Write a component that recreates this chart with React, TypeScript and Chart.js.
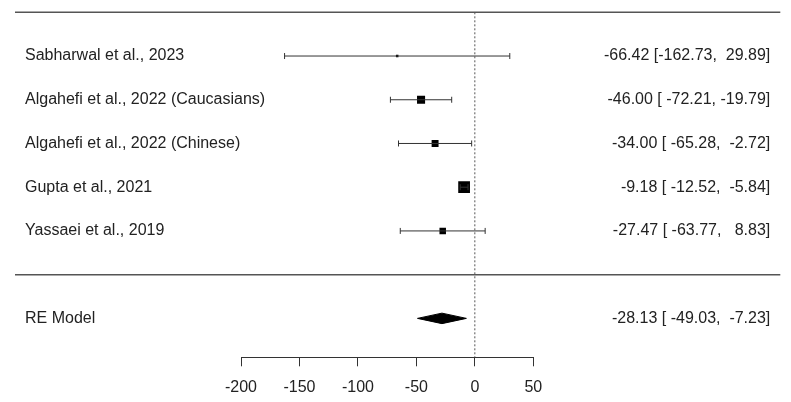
import React, { useEffect, useRef } from "react";
import { Chart, registerables } from "chart.js";

Chart.register(...registerables);

// ---- data ----
const studies = [
  "Sabharwal et al., 2023",
  "Algahefi et al., 2022 (Caucasians)",
  "Algahefi et al., 2022 (Chinese)",
  "Gupta et al., 2021",
  "Yassaei et al., 2019",
];
const estimates = [-66.42, -46.0, -34.0, -9.18, -27.47];
const lowers = [-162.73, -72.21, -65.28, -12.52, -63.77];
const uppers = [29.89, -19.79, -2.72, -5.84, 8.83];
const markerRadius = [1.8, 5.7, 4.9, 8.3, 4.6];
const rows = [5, 4, 3, 2, 1];

const reLabel = "RE Model";
const reEstimate = -28.13;
const reLower = -49.03;
const reUpper = -7.23;
const reRow = -1;

const xTicks = [-200, -150, -100, -50, 0, 50];

// ---- layout constants ----
const FONT = '"Liberation Sans", Arial, Helvetica, sans-serif';
const Y_MAX = 6;
const Y_MIN = -1.89;
const DIAMOND_H = 0.12;

const fmt = (v: number) => v.toFixed(2);
const allEst = [...estimates, reEstimate].map(fmt);
const allLo = [...lowers, reLower].map(fmt);
const allHi = [...uppers, reUpper].map(fmt);
const wE = Math.max(...allEst.map((s) => s.length));
const wL = Math.max(...allLo.map((s) => s.length));
const wH = Math.max(...allHi.map((s) => s.length));
const ciText = (i: number) =>
  `${allEst[i].padStart(wE, " ")} [${allLo[i].padStart(wL, " ")}, ${allHi[i].padStart(wH, " ")}]`;

const textPlugin = {
  id: "forestText",
  afterDatasetsDraw(chart: any) {
    const { ctx, chartArea, scales } = chart;
    const y = scales.y;
    ctx.save();
    ctx.strokeStyle = "#555";
    ctx.lineWidth = 1.5;
    [Y_MAX, 0].forEach((r) => {
      const py = y.getPixelForValue(r);
      ctx.beginPath();
      ctx.moveTo(chartArea.left - 226, py);
      ctx.lineTo(chartArea.right + 247, py);
      ctx.stroke();
    });
    ctx.font = `16px ${FONT}`;
    ctx.fillStyle = "#222";
    ctx.textBaseline = "middle";
    const lx = chartArea.left - 216;
    const rx = chartArea.right + 237;
    rows.forEach((r, i) => {
      const py = y.getPixelForValue(r);
      ctx.textAlign = "left";
      ctx.fillText(studies[i], lx, py);
      ctx.textAlign = "right";
      ctx.fillText(ciText(i), rx, py);
    });
    const pr = y.getPixelForValue(reRow);
    ctx.textAlign = "left";
    ctx.fillText(reLabel, lx, pr);
    ctx.textAlign = "right";
    ctx.fillText(ciText(studies.length), rx, pr);
    ctx.restore();
  },
};

export default function App() {
  const ref = useRef<HTMLCanvasElement | null>(null);

  useEffect(() => {
    if (!ref.current) return;
    const datasets: any[] = [];

    // reference line at 0
    datasets.push({
      data: [
        { x: 0, y: Y_MAX },
        { x: 0, y: Y_MIN },
      ],
      showLine: true,
      borderColor: "#555",
      borderWidth: 1,
      borderDash: [2, 2],
      pointRadius: 0,
    });

    // CIs
    rows.forEach((r, i) => {
      datasets.push({
        data: [
          { x: lowers[i], y: r },
          { x: uppers[i], y: r },
        ],
        showLine: true,
        borderColor: "#333",
        borderWidth: 1,
        pointStyle: "line",
        pointRotation: 90,
        pointRadius: 3,
        pointBorderColor: "#333",
        pointBorderWidth: 1,
      });
    });

    // squares
    datasets.push({
      data: rows.map((r, i) => ({ x: estimates[i], y: r })),
      pointStyle: "rect",
      pointRadius: markerRadius,
      backgroundColor: "#000",
      borderColor: "#000",
      borderWidth: 0,
    });

    // diamond
    datasets.push({
      data: [
        { x: reLower, y: reRow },
        { x: reEstimate, y: reRow + DIAMOND_H },
        { x: reUpper, y: reRow },
        { x: reEstimate, y: reRow - DIAMOND_H },
        { x: reLower, y: reRow },
      ],
      showLine: true,
      fill: "shape",
      backgroundColor: "#000",
      borderColor: "#000",
      borderWidth: 1,
      pointRadius: 0,
    });

    const chart = new Chart(ref.current, {
      type: "scatter",
      data: { datasets },
      options: {
        animation: false,
        responsive: false,
        maintainAspectRatio: false,
        devicePixelRatio: 1,
        layout: { padding: { left: 241, right: 257.7, top: 12.3, bottom: 0 } },
        plugins: { legend: { display: false }, tooltip: { enabled: false } },
        scales: {
          x: {
            type: "linear",
            min: -200,
            max: 50,
            afterBuildTicks: (s: any) => {
              s.ticks = xTicks.map((v) => ({ value: v }));
            },
            afterFit: (s: any) => {
              s.height = 44.7;
            },
            ticks: {
              color: "#222",
              font: { family: FONT, size: 16 },
              padding: 12,
              maxRotation: 0,
              autoSkip: false,
            },
            grid: {
              drawOnChartArea: false,
              drawTicks: true,
              tickLength: 9,
              color: "#333",
              lineWidth: 1,
            },
            border: { display: true, color: "#333", width: 1 },
          },
          y: { type: "linear", display: false, min: Y_MIN, max: Y_MAX },
        },
      } as any,
      plugins: [textPlugin],
    });
    return () => chart.destroy();
  }, []);

  return (
    <div style={{ position: "fixed", left: 0, top: 0, width: 791, height: 402, background: "#fff" }}>
      <canvas ref={ref} width={791} height={402} style={{ display: "block" }} />
    </div>
  );
}
